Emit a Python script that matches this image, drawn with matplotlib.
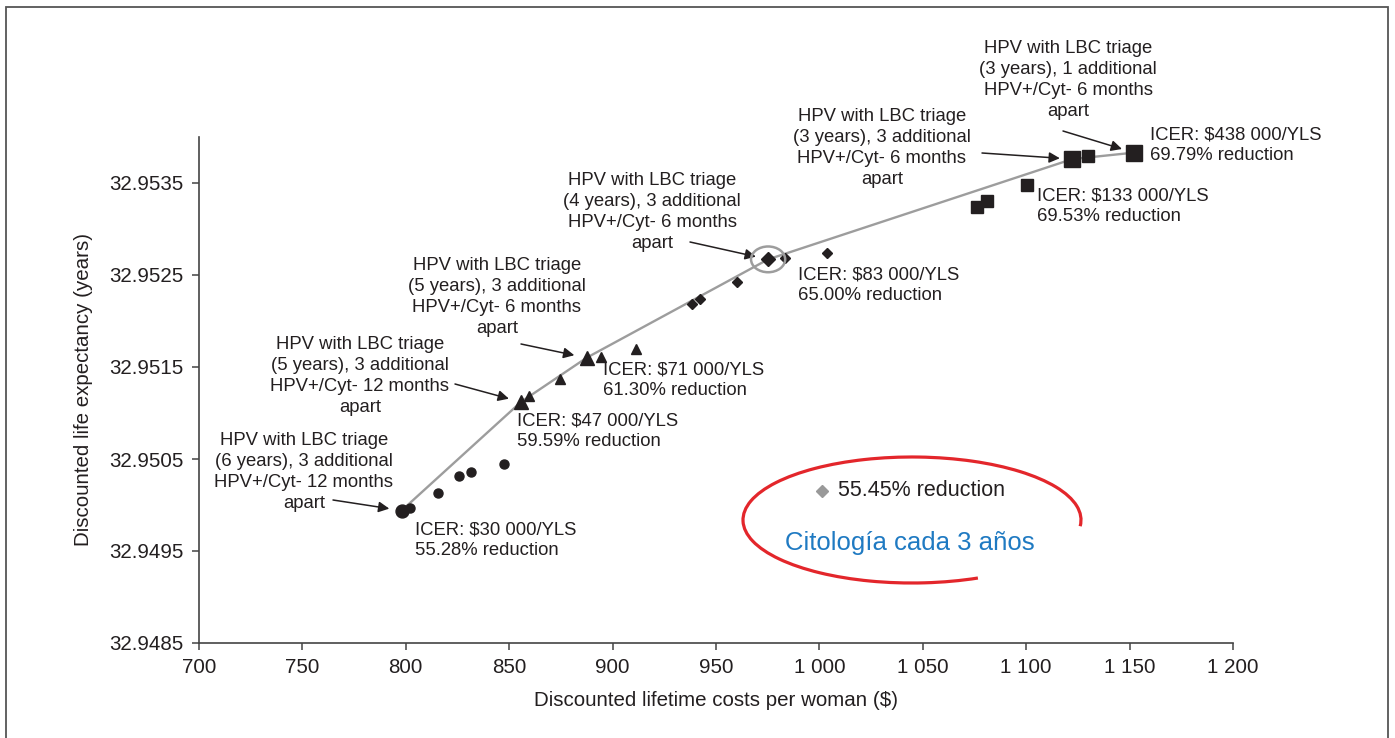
import matplotlib
matplotlib.use("Agg")
from matplotlib import pyplot as plt
from matplotlib.patches import Ellipse, Arc, Rectangle

# screening strategies, grouped by marker
circ_x = [798.0, 801.8, 815.8, 825.5, 831.3, 847.7]
circ_y = [32.94994, 32.94997, 32.95013, 32.95032, 32.95036, 32.95045]
tri_x = [855.7, 859.7, 874.7, 887.4, 894.6, 911.2]
tri_y = [32.95112, 32.95119, 32.95137, 32.95160, 32.95161, 32.95170]
dia_x = [938.4, 942.3, 960.1, 975.2, 983.3, 1003.6]
dia_y = [32.95218, 32.95224, 32.95242, 32.95267, 32.95268, 32.95274]
sq_x = [1076.2, 1081.0, 1100.3, 1122.3, 1130.0, 1152.1]
sq_y = [32.95324, 32.95330, 32.95348, 32.95376, 32.95379, 32.95383]

# efficient frontier
front_x = [798.0, 855.7, 887.4, 975.2, 1122.3, 1152.1]
front_y = [32.94994, 32.95112, 32.95160, 32.95267, 32.95376, 32.95383]

# cytology every 3 years marker
cyto_x = [1001.3]
cyto_y = [32.95015]

x_ticks = [700, 750, 800, 850, 900, 950, 1000, 1050, 1100, 1150, 1200]
x_tick_labels = ["700", "750", "800", "850", "900", "950", "1 000", "1 050", "1 100", "1 150", "1 200"]
y_ticks = [32.9485, 32.9495, 32.9505, 32.9515, 32.9525, 32.9535]
y_tick_labels = ["32.9485", "32.9495", "32.9505", "32.9515", "32.9525", "32.9535"]

strategy_labels = [
    "HPV with LBC triage\n(6 years), 3 additional\nHPV+/Cyt- 12 months\napart",
    "HPV with LBC triage\n(5 years), 3 additional\nHPV+/Cyt- 12 months\napart",
    "HPV with LBC triage\n(5 years), 3 additional\nHPV+/Cyt- 6 months\napart",
    "HPV with LBC triage\n(4 years), 3 additional\nHPV+/Cyt- 6 months\napart",
    "HPV with LBC triage\n(3 years), 3 additional\nHPV+/Cyt- 6 months\napart",
    "HPV with LBC triage\n(3 years), 1 additional\nHPV+/Cyt- 6 months\napart",
]
strategy_x = [798.0, 855.7, 887.4, 975.2, 1122.3, 1152.1]
strategy_y = [32.94994, 32.95112, 32.95160, 32.95267, 32.95376, 32.95383]
icer_labels = [
    "ICER: $30 000/YLS\n55.28% reduction",
    "ICER: $47 000/YLS\n59.59% reduction",
    "ICER: $71 000/YLS\n61.30% reduction",
    "ICER: $83 000/YLS\n65.00% reduction",
    "ICER: $133 000/YLS\n69.53% reduction",
    "ICER: $438 000/YLS\n69.79% reduction",
]

plt.rcParams['font.family'] = ['Liberation Sans', 'DejaVu Sans']
TXT = '#231f20'

W, H = 1395, 738
fig = plt.figure(figsize=(W / 100, H / 100), dpi=100)
ax = fig.add_axes([199 / W, 1 - 643 / H, (1233 - 199) / W, (643 - 137) / H])


def fp(x, y):
    # pixel position -> figure fraction
    return (x / W, 1 - y / H)


ax.plot(front_x, front_y, color='#9d9d9d', lw=1.7, zorder=2)

small = dict(color='#231f20', ls='none', zorder=3)
ax.plot(circ_x[1:], circ_y[1:], marker='o', ms=6.5, **small)
ax.plot(circ_x[:1], circ_y[:1], marker='o', ms=9.3, **small)
big_t = [0, 3]
ax.plot([v for i, v in enumerate(tri_x) if i not in big_t], [v for i, v in enumerate(tri_y) if i not in big_t],
        marker='^', ms=7, **small)
ax.plot([tri_x[i] for i in big_t], [tri_y[i] for i in big_t], marker='^', ms=10, **small)
ax.plot([v for i, v in enumerate(dia_x) if i != 3], [v for i, v in enumerate(dia_y) if i != 3],
        marker='D', ms=5, **small)
ax.plot(dia_x[3:4], dia_y[3:4], marker='D', ms=7.5, **small)
big_s = [3, 5]
ax.plot([v for i, v in enumerate(sq_x) if i not in big_s], [v for i, v in enumerate(sq_y) if i not in big_s],
        marker='s', ms=8, **small)
ax.plot([sq_x[i] for i in big_s], [sq_y[i] for i in big_s], marker='s', ms=11, **small)

# gray circle around the 4-year strategy
ax.add_patch(Ellipse((dia_x[3], dia_y[3]), 16.5, 0.00028, fill=False, ec='#9d9d9d', lw=1.8, zorder=4))

ax.plot(cyto_x, cyto_y, marker='D', ms=6, color='#999999', ls='none')

ax.set_xlim(700, 1200)
ax.set_ylim(32.9485, 32.954)
ax.set_xticks(x_ticks)
ax.set_xticklabels(x_tick_labels)
ax.set_yticks(y_ticks)
ax.set_yticklabels(y_tick_labels)
for s in ['top', 'right']:
    ax.spines[s].set_visible(False)
for s in ['left', 'bottom']:
    ax.spines[s].set_color('#444444')
    ax.spines[s].set_linewidth(1.2)
ax.tick_params(direction='out', length=5, width=1.1, color='#444444', labelsize=14.8, labelcolor=TXT, pad=6)
ax.set_xlabel("Discounted lifetime costs per woman ($)", fontsize=14.8, color=TXT, labelpad=10)
ax.set_ylabel("Discounted life expectancy (years)", fontsize=14.8, color=TXT, labelpad=12)

# strategy text blocks (pixel positions) and arrows
block_pos = [(304, 472), (360, 376), (497, 297), (652, 212), (882, 148), (1068, 80)]
arrow_from = [(333, 500), (455, 384), (521, 344), (690, 242), (982, 153), (1063, 131)]
for lab, (bx, by), (ax0, ay0), sx, sy in zip(strategy_labels, block_pos, arrow_from, strategy_x, strategy_y):
    fig.text(*fp(bx, by), lab, ha='center', va='center', fontsize=13.3, color=TXT, linespacing=1.3)
    ax.annotate('', xy=(sx, sy), xycoords='data', xytext=fp(ax0, ay0), textcoords='figure fraction',
                arrowprops=dict(arrowstyle='-|>', color='#231f20', lw=1.1, mutation_scale=16,
                                shrinkA=0, shrinkB=9))

icer_pos = [(415, 540), (517, 431), (603, 380), (798, 285), (1037, 206), (1150, 145)]
for lab, (ix, iy) in zip(icer_labels, icer_pos):
    fig.text(*fp(ix, iy), lab, ha='left', va='center', fontsize=13.3, color=TXT, linespacing=1.3)

fig.text(*fp(838, 491), "55.45% reduction", ha='left', va='center', fontsize=15.5, color=TXT)
fig.text(*fp(910, 543), "Citología cada 3 años", ha='center', va='center', fontsize=18.5, color='#1f7ac2')

# red hand-drawn ellipse
cx, cy = fp(912, 520)
fig.add_artist(Arc((cx, cy), 338 / W, 126 / H, theta1=-4, theta2=301, transform=fig.transFigure,
                   color='#e3262b', lw=2.3))

# outer frame
fig.add_artist(Rectangle((6 / W, -0.01), (1388 - 6) / W, 1.01 - 7 / H, transform=fig.transFigure,
                         fill=False, ec='#555555', lw=1.3))

fig.savefig('out.png', dpi=100)
